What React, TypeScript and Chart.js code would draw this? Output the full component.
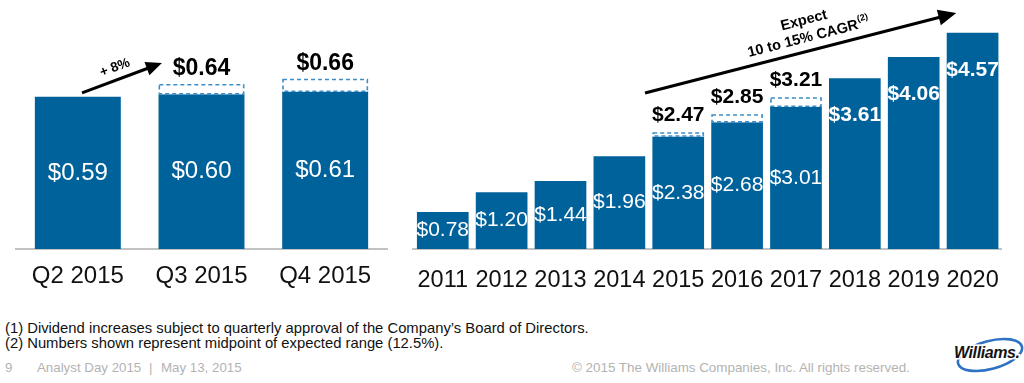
import React, { useEffect, useRef } from "react";
import { Chart, registerables } from "chart.js";

Chart.register(...registerables);

const FONT = '"Liberation Sans", Arial, Helvetica, sans-serif';
const BAR_COLOR = "#00629b";
const DASH_COLOR = "#3d8dc8";

// ---------- data ----------
const quarterLabels = ["Q2 2015", "Q3 2015", "Q4 2015"];
const quarterDividends = [0.59, 0.6, 0.61];
const quarterTargets: (number | null)[] = [null, 0.64, 0.66];
const quarterProjected = [false, false, false];
const quarterGrowthText = ["+ 8%"];

const yearLabels = ["2011", "2012", "2013", "2014", "2015", "2016", "2017", "2018", "2019", "2020"];
const yearDividends = [0.78, 1.2, 1.44, 1.96, 2.38, 2.68, 3.01, 3.61, 4.06, 4.57];
const yearTargets: (number | null)[] = [null, null, null, null, 2.47, 2.85, 3.21, null, null, null];
const yearProjected = [false, false, false, false, false, false, false, true, true, true];
const cagrText = ["Expect", "10 to 15% CAGR"];
const cagrNote = "(2)";

const footnotes = [
  "(1) Dividend increases subject to quarterly approval of the Company\u2019s Board of Directors.",
  "(2) Numbers shown represent midpoint of expected range (12.5%).",
];
const footerPage = "9";
const footerEvent = "Analyst Day 2015";
const footerDate = "May 13, 2015";
const footerCopyright = "\u00a9 2015 The Williams Companies, Inc. All rights reserved.";
const logoText = "Williams.";

const money = (v: number) => "$" + v.toFixed(2);

type ArrowText = { lines: string[]; sup?: string; t: number; offsets: number[]; size: number };
type ArrowCfg = {
  from: [number, number];
  to: [number, number];
  lineWidth: number;
  head: number;
  halfWidth: number;
  text: ArrowText;
};

type ChartCfg = {
  labels: string[];
  values: number[];
  targets: (number | null)[];
  projected: boolean[];
  width: number;
  height: number;
  padding: { left: number; right: number; top: number; bottom: number };
  yMax: number;
  barPercentage: number;
  tickSize: number;
  tickPadding: number;
  valueSize: number;
  targetSize: number;
  targetGap: number;
  projectedGap: number;
  arrow: ArrowCfg;
};

function overlayPlugin(cfg: ChartCfg) {
  return {
    id: "overlay",
    afterDraw(chart: any) {
      const ctx: CanvasRenderingContext2D = chart.ctx;
      const xs = chart.scales.x;
      const ys = chart.scales.y;
      const meta = chart.getDatasetMeta(0);
      ctx.save();
      ctx.textAlign = "center";
      ctx.textBaseline = "middle";
      meta.data.forEach((bar: any, i: number) => {
        const p = bar.getProps(["x", "y", "base", "width"], true);
        const tgt = cfg.targets[i];
        if (tgt != null) {
          const ty = ys.getPixelForValue(tgt);
          const left = p.x - p.width / 2 + 0.8;
          const w = p.width - 1.6;
          ctx.save();
          ctx.fillStyle = "#ffffff";
          ctx.fillRect(left, ty, w, p.y - ty);
          ctx.setLineDash([4, 3]);
          ctx.lineWidth = 1.6;
          ctx.strokeStyle = DASH_COLOR;
          ctx.strokeRect(left, ty + 0.8, w, p.y - ty - 1.2);
          ctx.restore();
          ctx.font = `bold ${cfg.targetSize}px ${FONT}`;
          ctx.fillStyle = "#000000";
          ctx.fillText(money(tgt), p.x, ty - cfg.targetGap);
        }
        ctx.fillStyle = "#ffffff";
        if (cfg.projected[i]) {
          ctx.font = `bold ${cfg.valueSize}px ${FONT}`;
          ctx.fillText(money(cfg.values[i]), p.x, p.y + cfg.projectedGap);
        } else {
          ctx.font = `${cfg.valueSize}px ${FONT}`;
          ctx.fillText(money(cfg.values[i]), p.x, (p.y + p.base) / 2);
        }
      });

      // arrow
      const a = cfg.arrow;
      const x0 = xs.getPixelForValue(a.from[0]);
      const y0 = ys.getPixelForValue(a.from[1]);
      const x1 = xs.getPixelForValue(a.to[0]);
      const y1 = ys.getPixelForValue(a.to[1]);
      const ang = Math.atan2(y1 - y0, x1 - x0);
      const c = Math.cos(ang);
      const s = Math.sin(ang);
      const hx = x1 - c * a.head;
      const hy = y1 - s * a.head;
      ctx.strokeStyle = "#000000";
      ctx.fillStyle = "#000000";
      ctx.lineWidth = a.lineWidth;
      ctx.beginPath();
      ctx.moveTo(x0, y0);
      ctx.lineTo(hx + c, hy + s);
      ctx.stroke();
      ctx.beginPath();
      ctx.moveTo(x1, y1);
      ctx.lineTo(hx - s * a.halfWidth, hy + c * a.halfWidth);
      ctx.lineTo(hx + s * a.halfWidth, hy - c * a.halfWidth);
      ctx.closePath();
      ctx.fill();

      const T = a.text;
      const bx = x0 + (x1 - x0) * T.t;
      const by = y0 + (y1 - y0) * T.t;
      const nx = s;
      const ny = -c;
      T.lines.forEach((line, li) => {
        const off = T.offsets[li];
        const cx = bx + nx * off;
        const cy = by + ny * off;
        ctx.save();
        ctx.translate(cx, cy);
        ctx.rotate(ang);
        ctx.font = `bold ${T.size}px ${FONT}`;
        const isLast = li === T.lines.length - 1;
        if (isLast && T.sup) {
          const wm = ctx.measureText(line).width;
          ctx.font = `bold ${Math.round(T.size * 0.62)}px ${FONT}`;
          const wsup = ctx.measureText(T.sup).width;
          const total = wm + wsup;
          ctx.textAlign = "left";
          ctx.font = `bold ${T.size}px ${FONT}`;
          ctx.fillText(line, -total / 2, 0);
          ctx.font = `bold ${Math.round(T.size * 0.62)}px ${FONT}`;
          ctx.fillText(T.sup, -total / 2 + wm + 0.5, -T.size * 0.38);
        } else {
          ctx.textAlign = "center";
          ctx.fillText(line, 0, 0);
        }
        ctx.restore();
      });
      ctx.restore();
    },
  };
}

function BarChart({ cfg, left }: { cfg: ChartCfg; left: number }) {
  const ref = useRef<HTMLCanvasElement | null>(null);
  useEffect(() => {
    if (!ref.current) return;
    const chart = new Chart(ref.current, {
      type: "bar",
      data: {
        labels: cfg.labels,
        datasets: [
          {
            data: cfg.values,
            backgroundColor: BAR_COLOR,
            borderWidth: 0,
            barPercentage: cfg.barPercentage,
            categoryPercentage: 1,
          },
        ],
      },
      options: {
        responsive: false,
        animation: false,
        events: [],
        layout: { padding: cfg.padding },
        plugins: { legend: { display: false }, tooltip: { enabled: false } },
        scales: {
          x: {
            grid: { display: false, drawTicks: false },
            border: { display: true, color: "#c2c2c2", width: 2 },
            ticks: {
              color: "#111111",
              font: { family: FONT, size: cfg.tickSize },
              padding: cfg.tickPadding,
              maxRotation: 0,
              autoSkip: false,
            },
            afterFit: (scale: any) => {
              scale.height = 60;
            },
          },
          y: { display: false, min: 0, max: cfg.yMax, grid: { display: false } },
        },
      },
      plugins: [overlayPlugin(cfg)],
    } as any);
    return () => chart.destroy();
  }, [cfg]);
  return (
    <canvas
      ref={ref}
      width={cfg.width}
      height={cfg.height}
      style={{ position: "absolute", left, top: 0, width: cfg.width, height: cfg.height }}
    />
  );
}

const quarterCfg: ChartCfg = {
  labels: quarterLabels,
  values: quarterDividends,
  targets: quarterTargets,
  projected: quarterProjected,
  width: 400,
  height: 310,
  padding: { left: 16, right: 13, top: 10, bottom: 1 },
  yMax: 239 / 258,
  barPercentage: 0.695,
  tickSize: 24,
  tickPadding: 13,
  valueSize: 24,
  targetSize: 23,
  targetGap: 15,
  projectedGap: 37,
  arrow: {
    from: [0.034, 0.605],
    to: [0.68, 0.721],
    lineWidth: 3,
    head: 16,
    halfWidth: 7,
    text: { lines: quarterGrowthText, t: 0.465, offsets: [12], size: 13.5 },
  },
};

const yearCfg: ChartCfg = {
  labels: yearLabels,
  values: yearDividends,
  targets: yearTargets,
  projected: yearProjected,
  width: 624,
  height: 310,
  padding: { left: 10, right: 22, top: 10, bottom: 1 },
  yMax: 239 / 47.3,
  barPercentage: 0.878,
  tickSize: 23.5,
  tickPadding: 17,
  valueSize: 21,
  targetSize: 21,
  targetGap: 17,
  projectedGap: 37,
  arrow: {
    from: [3.436, 3.298],
    to: [8.723, 4.989],
    lineWidth: 3,
    head: 18,
    halfWidth: 8,
    text: { lines: cagrText, sup: cagrNote, t: 0.535, offsets: [30.5, 13], size: 14.5 },
  },
};

export default function App() {
  const gray = "#b3b3b3";
  return (
    <div
      style={{
        position: "absolute",
        left: 0,
        top: 0,
        width: 1024,
        height: 383,
        background: "#ffffff",
        overflow: "hidden",
        fontFamily: FONT,
      }}
    >
      <BarChart cfg={quarterCfg} left={0} />
      <BarChart cfg={yearCfg} left={400} />
      {footnotes.map((f, i) => (
        <div
          key={i}
          style={{
            position: "absolute",
            left: 5,
            top: 320 + i * 15,
            fontSize: 14.8,
            lineHeight: "16px",
            color: "#111111",
            whiteSpace: "nowrap",
          }}
        >
          {f}
        </div>
      ))}
      <div style={{ position: "absolute", left: 5, top: 360, fontSize: 13.3, lineHeight: "16px", color: gray }}>{footerPage}</div>
      <div style={{ position: "absolute", left: 37, top: 360, fontSize: 13.3, lineHeight: "16px", color: gray, whiteSpace: "nowrap" }}>{footerEvent}</div>
      <div style={{ position: "absolute", left: 149, top: 360, fontSize: 13.3, lineHeight: "16px", color: gray }}>|</div>
      <div style={{ position: "absolute", left: 161, top: 360, fontSize: 13.3, lineHeight: "16px", color: gray, whiteSpace: "nowrap" }}>{footerDate}</div>
      <div style={{ position: "absolute", left: 572, top: 360, fontSize: 13.4, lineHeight: "16px", color: gray, whiteSpace: "nowrap" }}>{footerCopyright}</div>
      <svg width={74} height={58} style={{ position: "absolute", left: 950, top: 325 }}>
        <ellipse cx={40} cy={30} rx={33} ry={14} transform="rotate(-15 40 30)" fill="none" stroke="#2f72c4" strokeWidth={2.6} />
        <text
          x={4}
          y={33}
          fontFamily={FONT}
          fontWeight="bold"
          fontStyle="italic"
          fontSize={16}
          fill="#141414"
          stroke="#ffffff"
          strokeWidth={3}
          style={{ paintOrder: "stroke" } as any}
          letterSpacing={-0.4}
        >
          {logoText}
        </text>
      </svg>
    </div>
  );
}
